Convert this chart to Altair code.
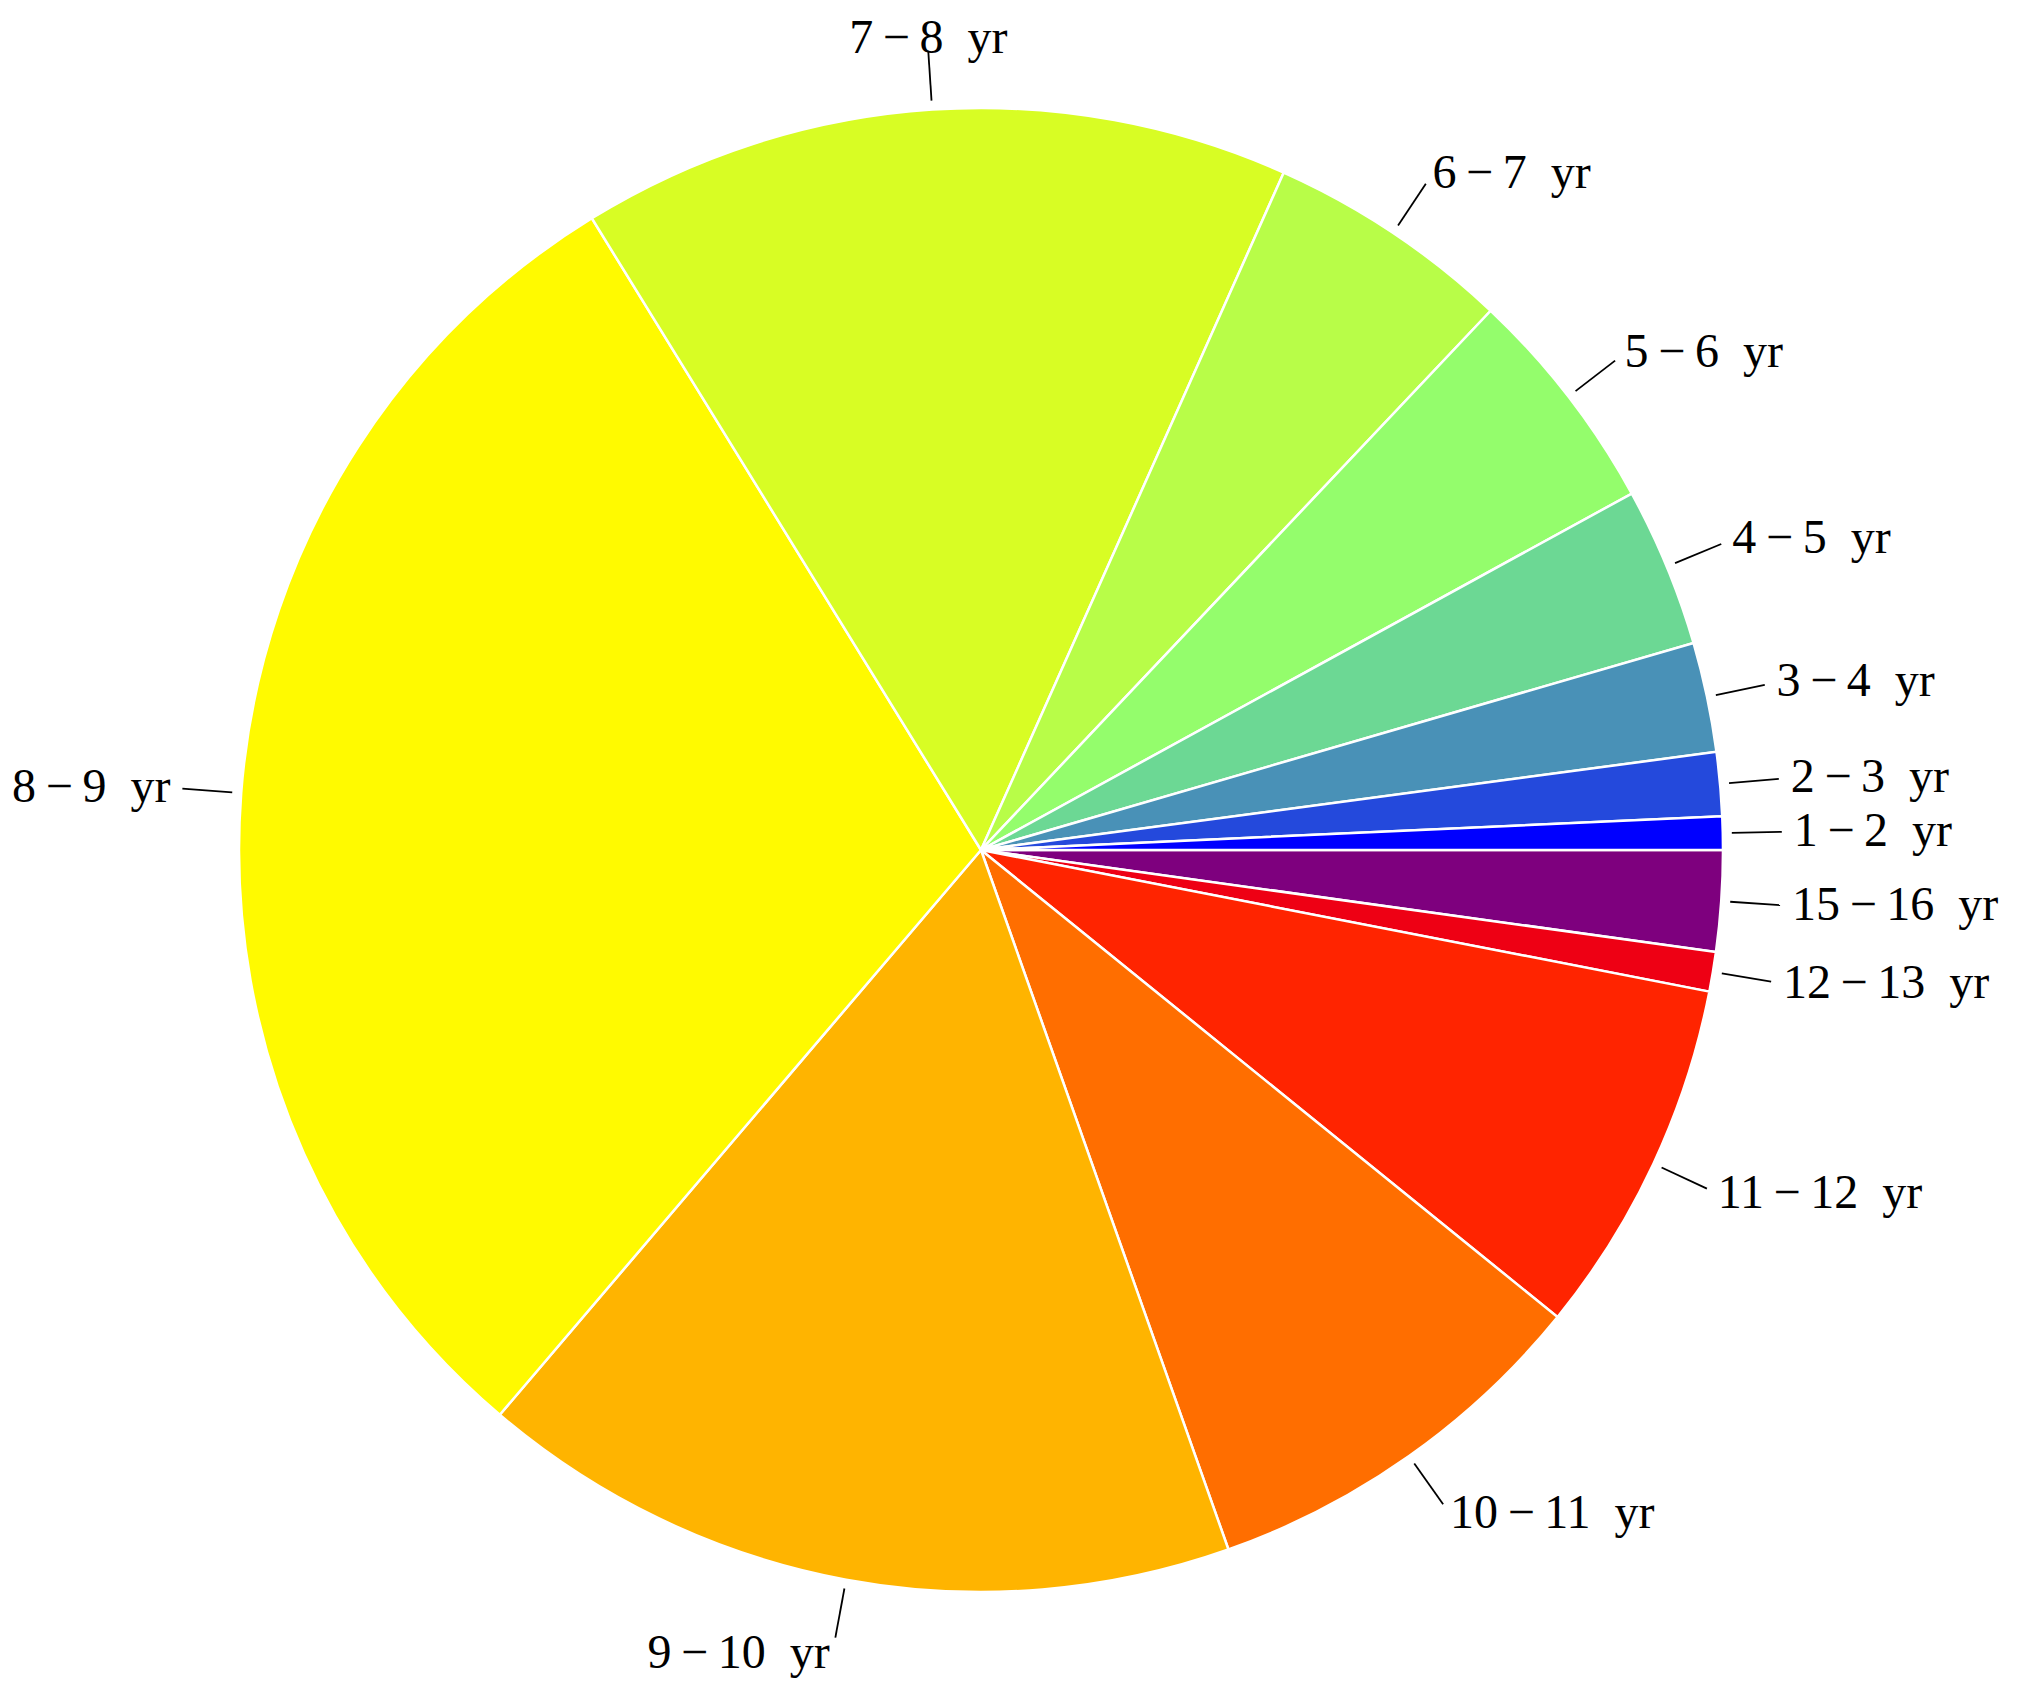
import math
import altair as alt
import pandas as pd

# Slices listed clockwise starting at 3 o'clock (the original runs counter-clockwise from 1-2 yr)
ages = ["15-16 yr", "12-13 yr", "11-12 yr", "10-11 yr", "9-10 yr", "8-9 yr",
        "7-8 yr", "6-7 yr", "5-6 yr", "4-5 yr", "3-4 yr", "2-3 yr", "1-2 yr"]
label_texts = ["15\u2009\u2212\u200916\u2002yr", "12\u2009\u2212\u200913\u2002yr",
               "11\u2009\u2212\u200912\u2002yr", "10\u2009\u2212\u200911\u2002yr",
               "9\u2009\u2212\u200910\u2002yr", "8\u2009\u2212\u20099\u2002yr",
               "7\u2009\u2212\u20098\u2002yr", "6\u2009\u2212\u20097\u2002yr",
               "5\u2009\u2212\u20096\u2002yr", "4\u2009\u2212\u20095\u2002yr",
               "3\u2009\u2212\u20094\u2002yr", "2\u2009\u2212\u20093\u2002yr",
               "1\u2009\u2212\u20092\u2002yr"]
shares = [7.9, 3.1, 28.0, 31.5, 59.9, 107.9, 55.7, 19.3, 17.9, 12.5, 8.6, 5.0, 2.6]
colors = ["#7e007e", "#ee0014", "#ff2400", "#ff6e00", "#ffb400", "#fffa00",
          "#d8fd24", "#b8fd48", "#94fd6c", "#6cd894", "#4991b7", "#2449dc", "#0000ff"]

# layout (chart pixel space)
CX, CY, R = 973, 842, 742
R1, R2 = 751, 801
FONT = "Liberation Serif"

df = pd.DataFrame({"age": ages, "text": label_texts, "share": shares,
                   "ord": list(range(len(ages)))})
base = alt.Chart(df)

pie = base.mark_arc(radius=R, stroke="white", strokeWidth=2.5).encode(
    theta=alt.Theta("share:Q", stack=True,
                    scale=alt.Scale(range=[math.pi / 2, math.pi / 2 + 2 * math.pi])),
    color=alt.Color("age:N", scale=alt.Scale(domain=ages, range=colors), legend=None),
    order=alt.Order("ord:Q", sort="ascending"),
    x=alt.value(CX),
    y=alt.value(CY),
)

geom = (
    base.transform_window(cum="sum(share)", sort=[alt.SortField("ord")])
    .transform_joinaggregate(total="sum(share)")
    .transform_calculate(t="PI/2 + 2*PI*(datum.cum - datum.share/2)/datum.total")
    .transform_calculate(sx="sin(datum.t)", cy="cos(datum.t)")
    .transform_calculate(
        x1=f"{CX} + {R1}*datum.sx", y1=f"{CY} - {R1}*datum.cy",
        x2=f"{CX} + {R2}*datum.sx", y2=f"{CY} - {R2}*datum.cy",
        al="datum.sx > 0.1 ? 'left' : (datum.sx < -0.1 ? 'right' : 'center')",
        bl="abs(datum.cy) > 0.9 ? 'alphabetic' : 'middle'",
        rl="datum.cy > 0.9 ? 799 : (datum.cy < -0.9 ? 832 : 813)")
    .transform_calculate(xt=f"{CX} + datum.rl*datum.sx", yt=f"{CY} - datum.rl*datum.cy")
)

rules = geom.mark_rule(color="black", strokeWidth=1.8).encode(
    x=alt.X("x1:Q", scale=None, axis=None),
    y=alt.Y("y1:Q", scale=None, axis=None),
    x2="x2:Q",
    y2="y2:Q",
)

texts = []
for al in ["left", "center", "right"]:
    for bl in ["middle", "alphabetic"]:
        texts.append(
            geom.transform_filter(f"datum.al == '{al}' && datum.bl == '{bl}'")
            .mark_text(align=al, baseline=bl, font=FONT, fontSize=48, color="black")
            .encode(
                x=alt.X("xt:Q", scale=None, axis=None),
                y=alt.Y("yt:Q", scale=None, axis=None),
                text="text:N",
            )
        )

chart = (
    alt.layer(pie, rules, *texts)
    .properties(width=2007, height=1675, padding=0,
                autosize=alt.AutoSizeParams(type="none"))
    .configure_view(stroke=None)
)

chart.save("out.html", embed_options={"renderer": "svg", "actions": False})
